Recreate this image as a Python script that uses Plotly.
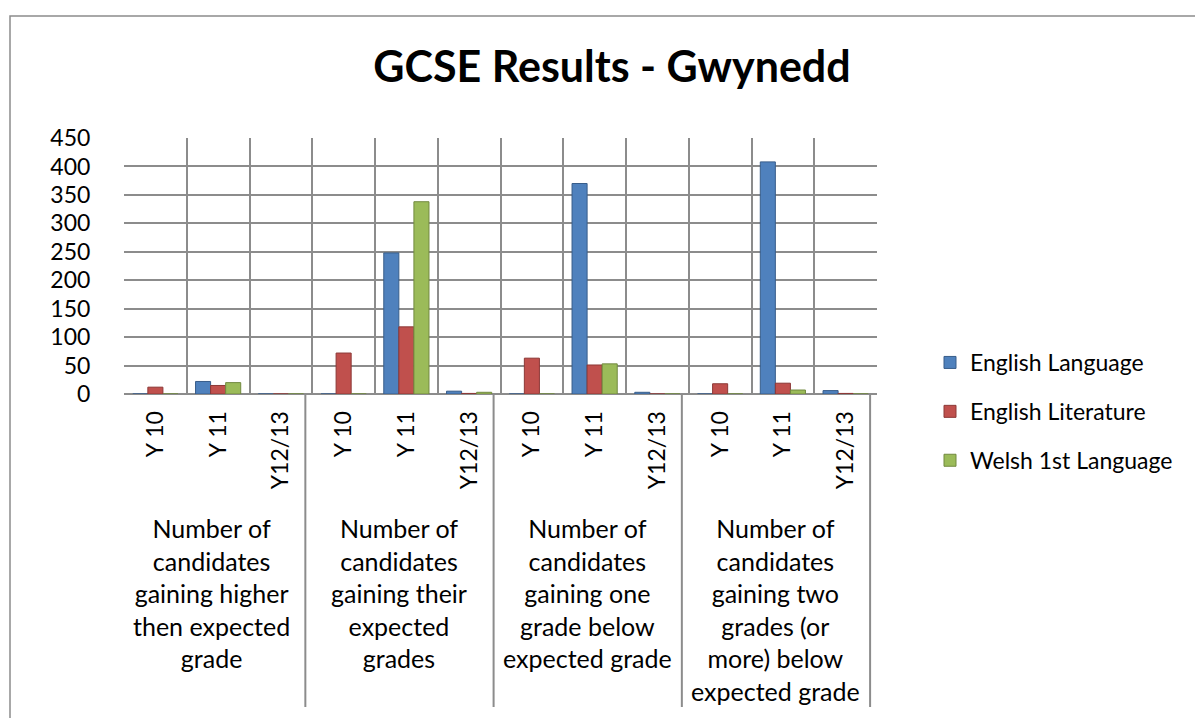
import plotly.graph_objects as go

# ---- data ----
year_labels = ["Y 10", "Y 11", "Y12/13"] * 4
group_labels = [
    "Number of<br>candidates<br>gaining higher<br>then expected<br>grade",
    "Number of<br>candidates<br>gaining their<br>expected<br>grades",
    "Number of<br>candidates<br>gaining one<br>grade below<br>expected grade",
    "Number of<br>candidates<br>gaining two<br>grades (or<br>more) below<br>expected grade",
]
series_names = ["English Language", "English Literature", "Welsh 1st Language"]
english_language = [0, 22, 0, 0, 248, 5, 0, 370, 3, 0, 408, 6]
english_literature = [12, 15, 0, 72, 118, 1, 63, 51, 0, 18, 19, 1]
welsh_1st_language = [0, 20, 0, 0, 338, 3, 0, 53, 0, 0, 7, 0]
y_ticks = [0, 50, 100, 150, 200, 250, 300, 350, 400, 450]

colors = ["#4F81BD", "#C0504D", "#9BBB59"]
edge_colors = ["#385D8A", "#8C3836", "#71893F"]
FONT = "Lato"

OFF = 8  # browser body margin
W, H = 1203 - OFF, 718 - OFF
# plot area in reference-screen px
L, R, T, B = 124, 877, 138, 394

x_pos = list(range(len(year_labels)))
n_groups = len(group_labels)
per_group = len(year_labels) // n_groups

fig = go.Figure()
for name, vals, c, ec in zip(series_names,
                             [english_language, english_literature, welsh_1st_language],
                             colors, edge_colors):
    fig.add_trace(go.Bar(
        x=x_pos, y=vals, name=name, legendgroup=name,
        marker=dict(color=c, line=dict(color=ec, width=1)),
    ))

def px_to_paper_x(px):
    return (px - L) / (R - L)

def px_to_paper_y(py):
    return (B - py) / (B - T)

shapes = []
# group separators below axis
for g in range(n_groups + 1):
    xv = g * per_group - 0.5 - 0.11
    shapes.append(dict(type="line", xref="x", yref="paper",
                       x0=xv, x1=xv, y0=0, y1=px_to_paper_y(707),
                       line=dict(color="#8C8C8C", width=2)))
# outer chart border
shapes.append(dict(type="rect", xref="paper", yref="paper",
                   x0=px_to_paper_x(10), x1=px_to_paper_x(1215),
                   y0=px_to_paper_y(730), y1=px_to_paper_y(16),
                   line=dict(color="#8C8C8C", width=1.5)))

annotations = []
for g, lab in enumerate(group_labels):
    annotations.append(dict(
        x=g * per_group + (per_group - 1) / 2 - 0.11, xref="x",
        y=px_to_paper_y(511), yref="paper", yanchor="top",
        text=lab, showarrow=False, align="center",
        font=dict(family=FONT, size=25, color="black"),
    ))

fig.update_layout(
    width=W, height=H,
    margin=dict(l=L - OFF, r=W - (R - OFF), t=T - OFF, b=H - (B - OFF), autoexpand=False),
    paper_bgcolor="white", plot_bgcolor="white",
    barmode="group", bargap=0.28, bargroupgap=0,
    title=dict(text="<b>GCSE Results - Gwynedd</b>", x=(612 - OFF) / W, xref="container",
               xanchor="center", y=1 - (67 - OFF) / H, yref="container", yanchor="middle",
               font=dict(family=FONT, size=43, color="black")),
    font=dict(family=FONT, size=23, color="black"),
    xaxis=dict(
        range=[-0.5, len(year_labels) - 0.5],
        tickmode="array", tickvals=x_pos, ticktext=year_labels,
        tickangle=-90, showgrid=False, zeroline=False,
        ticks="outside", ticklen=7, tickcolor="rgba(0,0,0,0)",
        tickfont=dict(family=FONT, size=23, color="black"),
        showline=False,
        minor=dict(tickmode="array",
                   tickvals=[v - 0.5 for v in range(len(year_labels) + 1)],
                   showgrid=True, gridcolor="#8C8C8C", gridwidth=2, ticks=""),
    ),
    yaxis=dict(
        range=[0, 450], tickmode="array", tickvals=y_ticks,
        showgrid=True, gridcolor="#8C8C8C", gridwidth=2,
        zeroline=True, zerolinecolor="#8C8C8C", zerolinewidth=2,
        ticks="outside", ticklen=28, tickcolor="rgba(0,0,0,0)",
        tickfont=dict(family=FONT, size=23, color="black"),
        showline=False,
    ),
    legend=dict(x=px_to_paper_x(930), y=px_to_paper_y(341), xanchor="left", yanchor="top",
                font=dict(family=FONT, size=23, color="black"),
                traceorder="grouped", tracegroupgap=16, bgcolor="rgba(0,0,0,0)"),
    shapes=shapes, annotations=annotations,
)

fig.write_html("out.html")
